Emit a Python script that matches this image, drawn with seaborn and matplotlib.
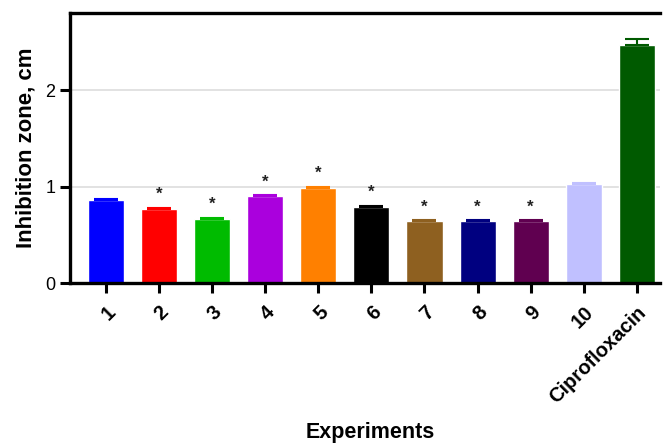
import numpy as np
import pandas as pd
import matplotlib.pyplot as plt
import seaborn as sns

sns.set_theme(style="white")
plt.rcParams['font.family'] = ['Liberation Sans', 'DejaVu Sans']
plt.rcParams['text.color'] = 'black'
plt.rcParams['axes.labelcolor'] = 'black'
plt.rcParams['xtick.color'] = 'black'
plt.rcParams['ytick.color'] = 'black'

# Dados
experiments = ["1", "2", "3", "4", "5", "6", "7", "8", "9", "10", "Ciprofloxacin"]
zone_cm = [0.86, 0.77, 0.67, 0.90, 0.99, 0.79, 0.64, 0.64, 0.64, 1.03, 2.47]
zone_err = [0.01, 0.01, 0.01, 0.01, 0.01, 0.01, 0.01, 0.01, 0.01, 0.01, 0.06]
significant = [False, True, True, True, True, True, True, True, True, False, False]
colors = ["#0000FF", "#FF0000", "#00BB00", "#AA00DD", "#FF8000", "#000000",
          "#8E6020", "#000080", "#600050", "#C0C0FF", "#005A00"]

df = pd.DataFrame({"Experiments": experiments, "zone": zone_cm})

fig = plt.figure(figsize=(6.65, 4.46), dpi=100)
ax = fig.add_axes([0.105, 0.365, 0.887, 0.606])

sns.barplot(data=df, x="Experiments", y="zone", hue="Experiments",
            palette=colors, width=0.68, saturation=1, legend=False, ax=ax)

# Barras de erro (só para cima), na cor de cada barra
for x, v, e, c in zip(range(len(experiments)), zone_cm, zone_err, colors):
    ax.errorbar(x, v, yerr=[[0], [e]], fmt="none", ecolor=c,
                elinewidth=1.5, capsize=8.5, capthick=1.5)

for x, v, e, s in zip(range(len(experiments)), zone_cm, zone_err, significant):
    if s:
        ax.text(x, v + e + 0.06, "*", ha="center", va="bottom",
                fontsize=12, fontweight="bold", color="#222222")

ax.set_xlim(-0.68, 10.43)
ax.set_ylim(0, 2.8)
ax.set_yticks([0, 1, 2])
ax.yaxis.grid(True, color="#DDDDDD", linewidth=1.2)
ax.set_axisbelow(True)

for side in ["left", "bottom", "top"]:
    ax.spines[side].set_linewidth(2.4)
    ax.spines[side].set_color("black")
ax.spines["right"].set_visible(False)

ax.tick_params(axis="both", direction="out", length=7, width=2.2,
               left=True, bottom=True)
ax.tick_params(axis="y", labelsize=13)
ax.tick_params(axis="x", labelsize=14.5, pad=7)
plt.setp(ax.get_xticklabels(), rotation=45, ha="right", rotation_mode="anchor",
         fontweight="bold")

ax.set_xlabel("Experiments", fontsize=15.5, fontweight="bold", va="center")
ax.xaxis.set_label_coords(0.51, -0.552)
ax.set_ylabel("Inhibition zone, cm", fontsize=16, fontweight="bold", labelpad=6)

fig.savefig("out.png", dpi=100)
